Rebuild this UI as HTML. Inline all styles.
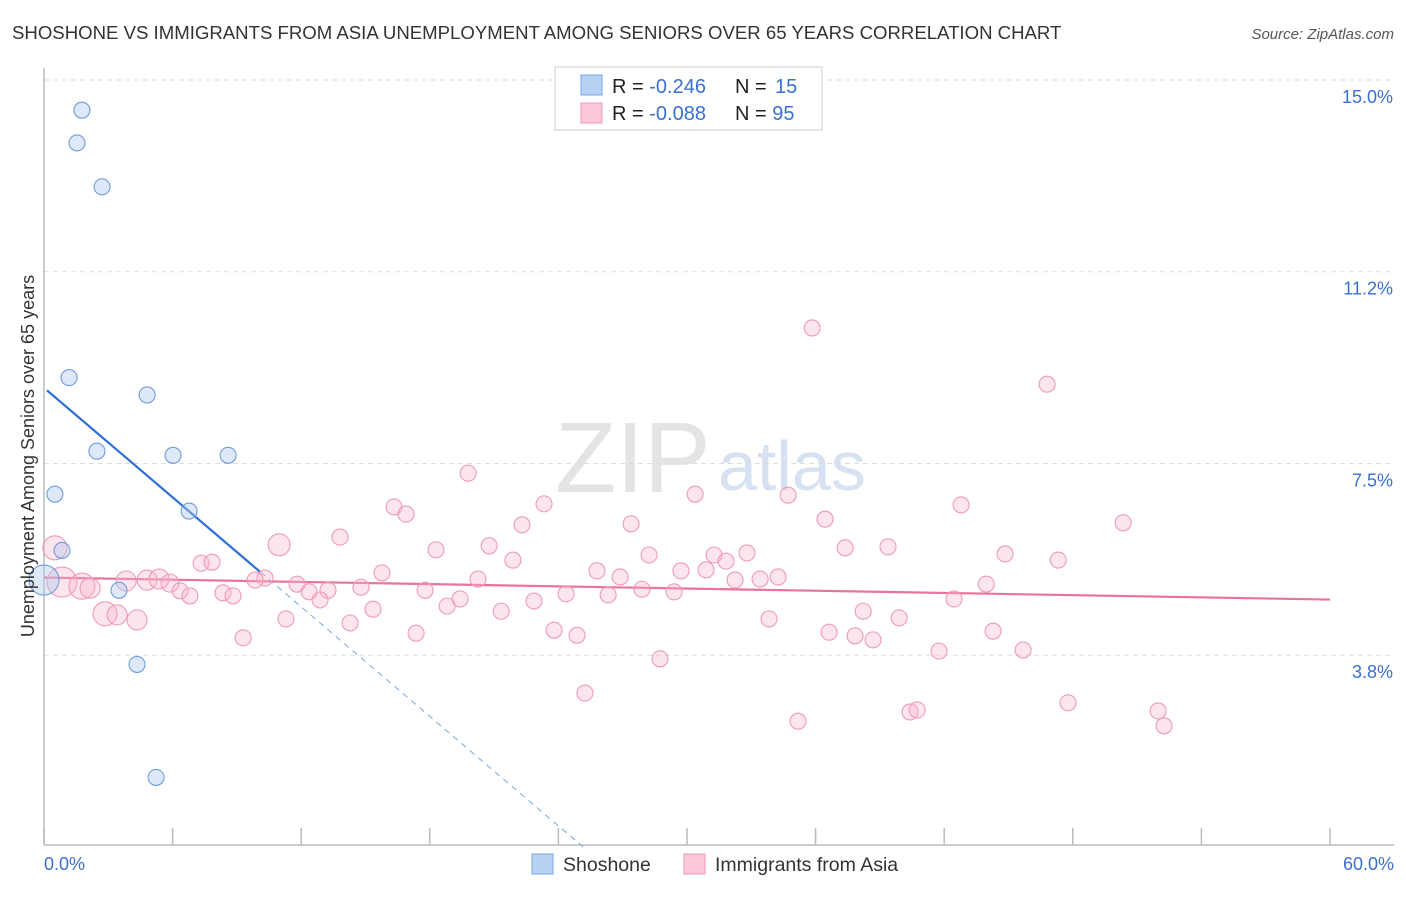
<!DOCTYPE html>
<html><head><meta charset="utf-8">
<style>
body{margin:0;background:#fff;font-family:"Liberation Sans",sans-serif;}
svg text{font-family:"Liberation Sans",sans-serif;}
</style></head>
<body>
<svg id="chart" width="1406" height="892" xmlns="http://www.w3.org/2000/svg">
<text x="12" y="39" font-size="18.6" fill="#333">SHOSHONE VS IMMIGRANTS FROM ASIA UNEMPLOYMENT AMONG SENIORS OVER 65 YEARS CORRELATION CHART</text>
<text x="1394" y="39" font-size="15" fill="#555" font-style="italic" text-anchor="end">Source: ZipAtlas.com</text>
<text x="555" y="492" font-size="100" fill="#e4e4e4" font-family="Liberation Serif">ZIP</text>
<text x="718" y="490" font-size="70" fill="#d6e2f2">atlas</text>
<g id="grid"></g>
<g id="axes"></g>
<g id="lines"></g>
<g id="pts"></g>
<g>
<rect x="555" y="67" width="267" height="63" fill="#fff" stroke="#ddd" stroke-width="1.5"/>
<rect x="581" y="75" width="21" height="20" fill="#b7d1f3" stroke="#7aa6e3"/>
<rect x="581" y="103" width="21" height="20" fill="#fac8d7" stroke="#ef9ab5"/>
<text x="612" y="93" font-size="20" fill="#222">R = <tspan fill="#3a70d0">-0.246</tspan><tspan x="735">N = </tspan><tspan fill="#3a70d0" x="775">15</tspan></text>
<text x="612" y="120" font-size="20" fill="#222">R = <tspan fill="#3a70d0">-0.088</tspan><tspan x="735">N = </tspan><tspan fill="#3a70d0">95</tspan></text>
</g>
<text transform="translate(34,456) rotate(-90)" font-size="18" fill="#333" text-anchor="middle">Unemployment Among Seniors over 65 years</text>
<text x="44" y="870" font-size="18" fill="#3a70d0">0.0%</text>
<text x="1394" y="870" font-size="18" fill="#3a70d0" text-anchor="end">60.0%</text>
<g>
<rect x="532" y="854" width="21" height="20" fill="#b7d1f3" stroke="#7aa6e3"/>
<text x="563" y="871" font-size="19.5" fill="#333">Shoshone</text>
<rect x="684" y="854" width="21" height="20" fill="#fac8d7" stroke="#ef9ab5"/>
<text x="715" y="871" font-size="19.5" fill="#333">Immigrants from Asia</text>
</g>
</svg>
<script>
const yTicks=[15,11.25,7.5,3.75];
const yTickLabels=["15.0%","11.2%","7.5%","3.8%"];
const xTicks=[0,6,12,18,24,30,36,42,48,54,60];
const shoX=[1.77,1.54,2.71,1.17,4.81,2.47,6.02,8.59,0.51,6.77,0.84,3.50,4.34,5.23,0];
const shoY=[14.41,13.77,12.91,9.18,8.84,7.74,7.66,7.66,6.90,6.57,5.80,5.02,3.57,1.36,5.22];
const shoBig=[0,0,0,0,0,0,0,0,0,0,0,0,0,0,1];
const asiaX=[35.84,46.80,19.79,30.38,34.72,23.33,16.33,16.89,42.79,36.44,22.30,27.39,50.35,13.81,10.97,20.77,18.29,37.38,39.38,28.23,31.26,32.80,21.88,31.82,44.84,47.32,7.33,7.84,0.51,15.77,25.80,29.72,30.89,26.88,20.25,34.25,33.41,32.24,10.31,4.81,3.83,5.37,5.88,0.84,1.77,2.15,11.81,14.79,17.78,27.90,29.40,43.96,9.85,6.35,6.81,8.35,8.82,12.37,13.25,24.36,26.32,19.41,12.88,18.81,22.86,42.46,15.35,21.33,38.22,2.85,3.41,4.34,11.29,14.28,39.90,33.83,23.80,24.87,17.36,36.63,37.84,38.68,44.28,9.29,28.74,41.76,45.68,25.24,47.78,35.18,40.41,40.74,51.98,52.26];
const asiaY=[10.15,9.05,7.31,6.90,6.88,6.71,6.65,6.51,6.69,6.41,6.30,6.32,6.34,6.06,5.91,5.89,5.81,5.85,5.87,5.71,5.71,5.75,5.61,5.59,5.73,5.61,5.55,5.57,5.85,5.36,5.40,5.40,5.42,5.28,5.24,5.28,5.24,5.22,5.26,5.22,5.20,5.24,5.16,5.18,5.10,5.06,5.14,5.08,5.02,5.04,4.99,5.14,5.22,5.01,4.91,4.97,4.91,4.99,5.02,4.95,4.93,4.85,4.83,4.71,4.81,4.85,4.65,4.61,4.61,4.56,4.54,4.44,4.46,4.38,4.48,4.46,4.24,4.14,4.18,4.20,4.13,4.05,4.22,4.09,3.68,3.83,3.85,3.01,2.82,2.46,2.64,2.68,2.66,2.37];
const asiaSize=[8,8,8,8,8,8,8,8,8,8,8,8,8,8,11,8,8,8,8,8,8,8,8,8,8,8,8,8,12,8,8,8,8,8,8,8,8,8,8,10,10,10,9,15,13,10,8,8,8,8,8,8,8,8,8,8,8,8,8,8,8,8,8,8,8,8,8,8,8,12,10,10,8,8,8,8,8,8,8,8,8,8,8,8,8,8,8,8,8,8,8,8,8,8];
const shoFit=[8.98,-0.357];
const asiaFit=[5.27,-0.0072];
const X=v=>44+v*21.433, Y=v=>80+(15-v)*51.13;
const NS="http://www.w3.org/2000/svg";
function mk(t,a,p){const e=document.createElementNS(NS,t);for(const k in a)e.setAttribute(k,a[k]);p.appendChild(e);return e;}
const grid=document.getElementById('grid'),axes=document.getElementById('axes'),lines=document.getElementById('lines'),pts=document.getElementById('pts');
yTicks.forEach((v,i)=>{
 const l=mk('line',{x1:44,x2:1394,y1:Y(v),y2:Y(v),stroke:'#ddd','stroke-dasharray':'5,4'},grid);
 
 
 const t=mk('text',{x:1393,y:Y(v)+23,'font-size':18,fill:'#3a70d0','text-anchor':'end'},grid);
 t.textContent=yTickLabels[i];
 
 
});
const ya=mk('line',{x1:44,x2:44,y1:68,y2:845,stroke:'#bbb','stroke-width':1.5},axes);


const xa=mk('line',{x1:44,x2:1394,y1:845,y2:845,stroke:'#bbb','stroke-width':1.5},axes);


xTicks.forEach(v=>{
 const t=mk('line',{x1:X(v),x2:X(v),y1:828,y2:845,stroke:'#bbb','stroke-width':1.5},axes);
 
 
});
asiaX.forEach((x,i)=>{
 const c=mk('circle',{cx:X(x),cy:Y(asiaY[i]),r:asiaSize[i],fill:'rgba(248,180,202,0.35)',stroke:'#ef9ab5','stroke-width':1.1},pts);
 
 
});
shoX.forEach((x,i)=>{
 const c=mk('circle',{cx:X(x),cy:Y(shoY[i]),r:shoBig[i]?15:8,fill:'rgba(170,200,240,0.4)',stroke:'#6f9be0','stroke-width':1.1},pts);
 
 
});
const al=mk('line',{x1:X(0),y1:Y(asiaFit[0]),x2:X(60),y2:Y(asiaFit[0]+asiaFit[1]*60),stroke:'#e8739b','stroke-width':2.2},lines);


const sEnd=10.1, sZero=-shoFit[0]/shoFit[1];
const sl=mk('line',{x1:X(0.14),y1:Y(shoFit[0]+shoFit[1]*0.14),x2:X(sEnd),y2:Y(shoFit[0]+shoFit[1]*sEnd),stroke:'#2f6fd6','stroke-width':2.2},lines);


const sd=mk('line',{x1:X(sEnd),y1:Y(shoFit[0]+shoFit[1]*sEnd),x2:X(sZero),y2:Y(0),stroke:'#7aa6e3','stroke-width':1,'stroke-dasharray':'6,5'},lines);


</script>
</body></html>
